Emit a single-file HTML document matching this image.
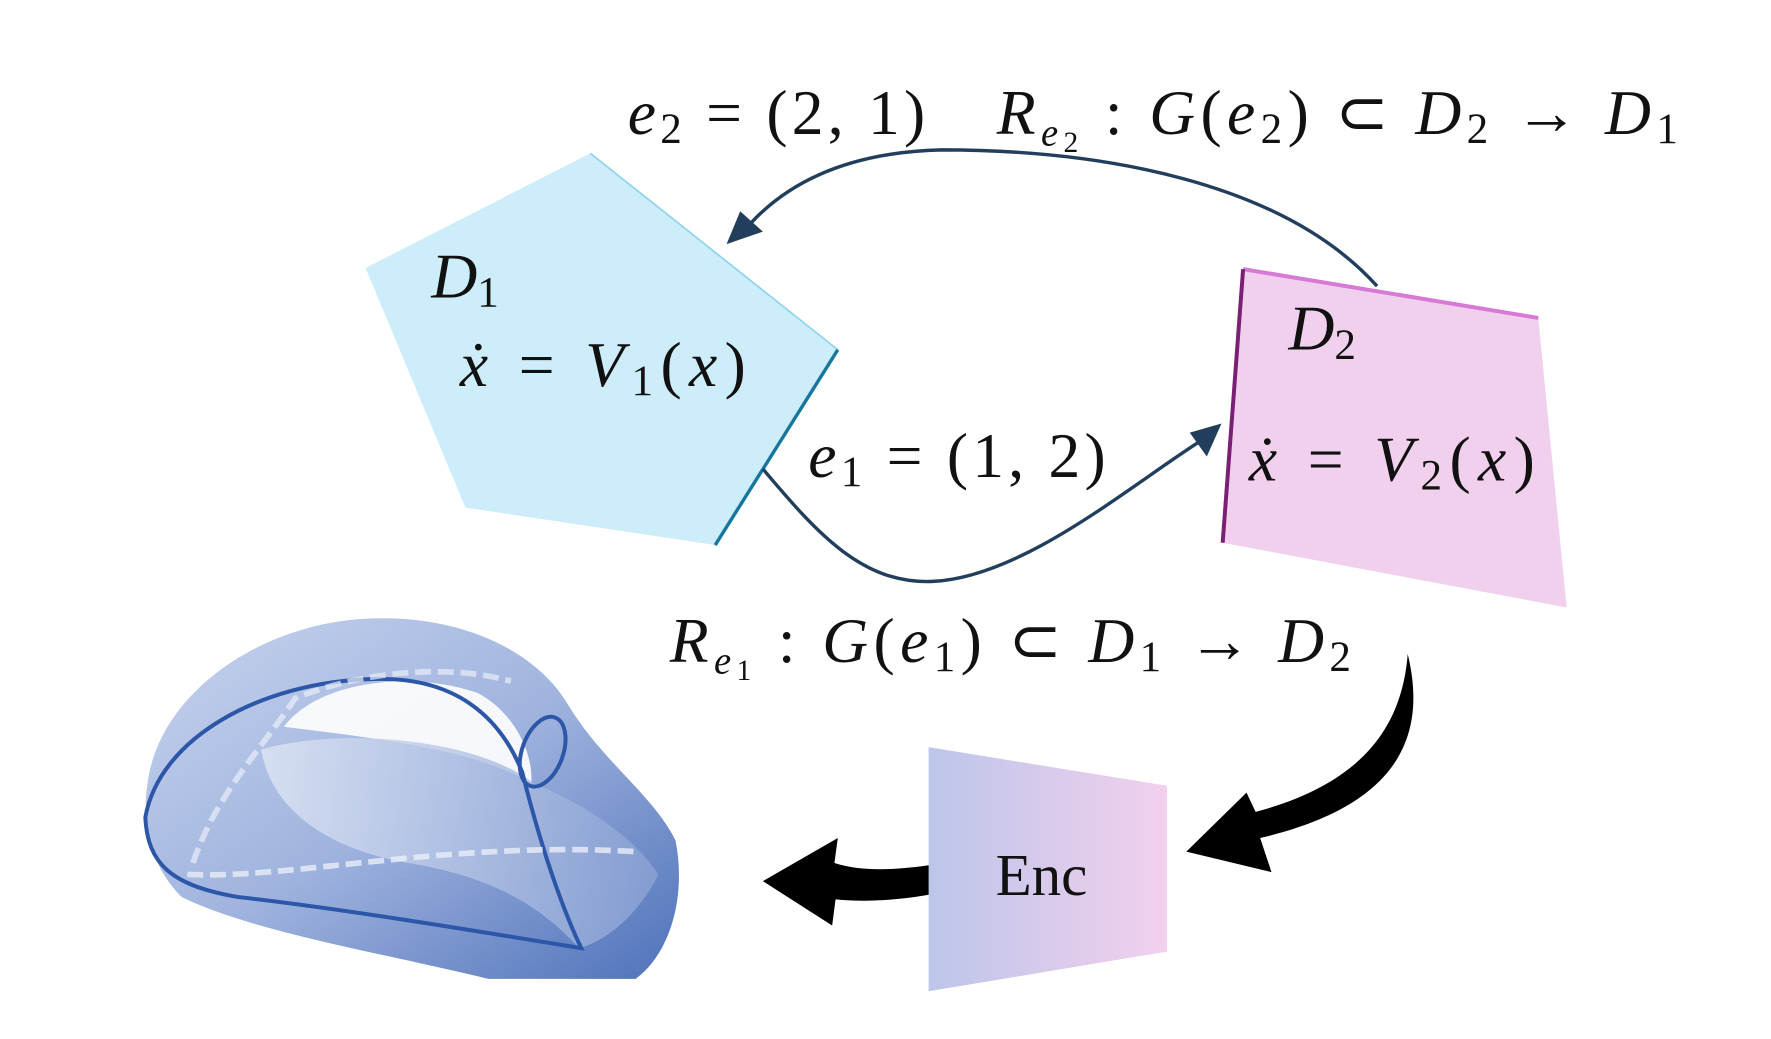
<!DOCTYPE html>
<html><head><meta charset="utf-8"><style>
html,body{margin:0;padding:0;background:#fff;}
svg{display:block;}
text{font-family:"Liberation Serif",serif;fill:#111;}
.m{font-style:italic;font-size:56px;}
.u{font-style:normal;}
</style></head><body>
<svg width="1771" height="1039" viewBox="0 0 1560 915" preserveAspectRatio="none" xmlns="http://www.w3.org/2000/svg">
<defs>
<linearGradient id="enc" x1="0" x2="1" y1="0" y2="0"><stop offset="0" stop-color="#bcc6ea"/><stop offset="0.5" stop-color="#d8caeb"/><stop offset="1" stop-color="#f2d0ee"/></linearGradient>
<linearGradient id="tor" x1="0" x2="1" y1="0" y2="1"><stop offset="0" stop-color="#c8d4ee"/><stop offset="0.5" stop-color="#9fb3de"/><stop offset="1" stop-color="#4f72ba"/></linearGradient>
<linearGradient id="tor2" x1="0" x2="1" y1="0" y2="0"><stop offset="0" stop-color="#dfe6f5"/><stop offset="1" stop-color="#8aa2d4"/></linearGradient>
</defs>
<polygon points="520,135 738,308 630,480 410,447 322,236" fill="#cdedfa"/>
<line x1="520" y1="135" x2="738" y2="308" stroke="#8fd3ee" stroke-width="1.5"/>
<line x1="738" y1="308" x2="630" y2="480" stroke="#16779c" stroke-width="3"/>
<polygon points="1095,237 1355,280 1380,535 1077,478" fill="#f1d0ee"/>
<line x1="1095" y1="237" x2="1355" y2="280" stroke="#d77ad6" stroke-width="3.5"/>
<line x1="1095" y1="237" x2="1077" y2="478" stroke="#7a1f73" stroke-width="3.5"/>
<path d="M1213,252 C1130,160 970,132 830,132 C740,134 690,165 660,198" fill="none" stroke="#213f5c" stroke-width="3"/>
<polygon points="640,215 652,186 672,204" fill="#213f5c"/>
<path d="M672,413 C720,470 760,515 822,512 C900,508 990,432 1055,390" fill="none" stroke="#213f5c" stroke-width="3"/>
<polygon points="1076,373 1063,402 1048,381" fill="#213f5c"/>
<text class="m" x="553" y="118" textLength="262" lengthAdjust="spacing">e<tspan class="u" font-size="38" dy="8">2</tspan><tspan class="u" dy="-8"> = (2, 1)</tspan></text>
<text class="m" x="878" y="118" textLength="600" lengthAdjust="spacing">R<tspan font-size="34" dy="10">e</tspan><tspan class="u" font-size="26" dy="6">2</tspan><tspan dy="-16"> </tspan><tspan class="u">: </tspan>G<tspan class="u">(</tspan>e<tspan class="u" font-size="38" dy="8">2</tspan><tspan class="u" dy="-8">) ⊂ </tspan>D<tspan class="u" font-size="38" dy="8">2</tspan><tspan class="u" dy="-8"> → </tspan>D<tspan class="u" font-size="38" dy="8">1</tspan></text>
<text class="m" x="380" y="262">D<tspan class="u" font-size="38" dy="8">1</tspan></text>
<text class="m" x="405" y="340" textLength="252" lengthAdjust="spacing">ẋ<tspan class="u"> = </tspan>V<tspan class="u" font-size="38" dy="8">1</tspan><tspan class="u" dy="-8">(</tspan>x<tspan class="u">)</tspan></text>
<text class="m" x="712" y="420" textLength="262" lengthAdjust="spacing">e<tspan class="u" font-size="38" dy="8">1</tspan><tspan class="u" dy="-8"> = (1, 2)</tspan></text>
<text class="m" x="1135" y="308">D<tspan class="u" font-size="38" dy="8">2</tspan></text>
<text class="m" x="1100" y="423" textLength="252" lengthAdjust="spacing">ẋ<tspan class="u"> = </tspan>V<tspan class="u" font-size="38" dy="8">2</tspan><tspan class="u" dy="-8">(</tspan>x<tspan class="u">)</tspan></text>
<text class="m" x="590" y="583" textLength="600" lengthAdjust="spacing">R<tspan font-size="34" dy="10">e</tspan><tspan class="u" font-size="26" dy="6">1</tspan><tspan dy="-16"> </tspan><tspan class="u">: </tspan>G<tspan class="u">(</tspan>e<tspan class="u" font-size="38" dy="8">1</tspan><tspan class="u" dy="-8">) ⊂ </tspan>D<tspan class="u" font-size="38" dy="8">1</tspan><tspan class="u" dy="-8"> → </tspan>D<tspan class="u" font-size="38" dy="8">2</tspan></text>
<path d="M1240,576 C1258,650 1230,710 1110,738 L1120,768 L1045,750 L1098,698 L1106,715 C1200,690 1235,640 1240,576 Z" fill="#000"/>
<polygon points="818,658 1028,692 1028,838 818,873" fill="url(#enc)"/>
<text x="877" y="788" font-size="52">Enc</text>
<path d="M818,762 C790,766 760,768 735,760 L738,738 L672,776 L733,815 L736,792 C765,795 795,792 818,788 Z" fill="#000"/>
<path d="M130,690 C140,610 230,550 320,545 C400,540 470,570 500,620 C530,670 575,700 595,740 C605,790 590,840 560,862 L430,862 C340,840 220,820 160,790 C130,760 125,720 130,690 Z" fill="url(#tor)"/>
<path d="M250,640 C280,600 360,590 420,610 C450,625 470,660 468,690 C420,660 330,650 250,640 Z" fill="#ffffff" opacity="0.9"/>
<path d="M230,660 C300,640 420,650 470,690 C520,710 560,740 580,770 C560,810 530,830 510,835 C470,790 420,770 360,760 C300,750 240,720 230,660 Z" fill="url(#tor2)" opacity="0.8"/>
<path d="M128,720 C140,650 230,600 330,598 C400,596 440,630 460,680 C480,760 500,810 512,835 C420,820 300,800 210,790 C150,780 130,760 128,720 Z" fill="none" stroke="#2c56a8" stroke-width="3.5"/>
<ellipse cx="478" cy="662" rx="18" ry="32" transform="rotate(20 478 662)" fill="none" stroke="#2c56a8" stroke-width="3.5"/>
<path d="M165,770 C250,775 400,740 560,750" fill="none" stroke="#e8eef8" stroke-width="5" stroke-dasharray="14,6" opacity="0.8"/>
<path d="M170,760 C190,700 230,660 260,615 C320,590 400,585 450,600" fill="none" stroke="#e8eef8" stroke-width="5" stroke-dasharray="14,6" opacity="0.7"/>
</svg>
</body></html>
